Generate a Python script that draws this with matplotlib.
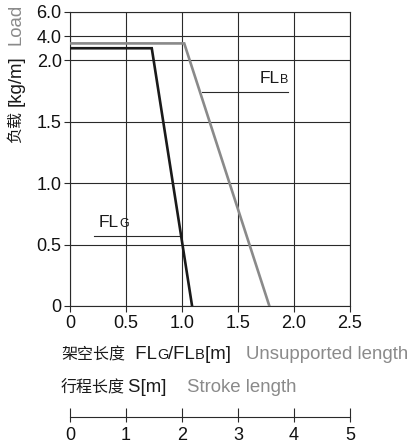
import numpy as np
import matplotlib
matplotlib.use("Agg")
import matplotlib.pyplot as plt
from matplotlib.offsetbox import TextArea, HPacker, AnnotationBbox

plt.rcParams['font.family'] = ['Liberation Sans', 'Noto Sans CJK SC', 'DejaVu Sans']

# Data
flg_x = [0.0, 0.73, 1.09]
flg_y = [3.0, 3.0, 0.0]
flb_x = [0.0, 1.02, 1.78]
flb_y = [3.4, 3.4, 0.0]
y_ticks = [0, 0.5, 1.0, 1.5, 2.0, 4.0, 6.0]
y_ticklabels = ["0", "0.5", "1.0", "1.5", "2.0", "4.0", "6.0"]
x_ticks = [0, 0.5, 1.0, 1.5, 2.0, 2.5]
x_ticklabels = ["0", "0.5", "1.0", "1.5", "2.0", "2.5"]
s_ticks = [0, 1, 2, 3, 4, 5]
s_ticklabels = ["0", "1", "2", "3", "4", "5"]

K = (12.0 / 122.0)

def fwd(v):
    v = np.asarray(v, dtype=float)
    return np.where(v <= 2, v, 2 + (v - 2) * K)

def inv(p):
    p = np.asarray(p, dtype=float)
    return np.where(p <= 2, p, 2 + (p - 2) / K)

W, H = 420, 443
FS = 13
LFS = 13.4
CFS = 11.5
SUB = 10.5
CJK = ['Noto Sans CJK SC', 'DejaVu Sans']
LAT = ['Liberation Sans', 'DejaVu Sans']
fig = plt.figure(figsize=(W / 100, H / 100), dpi=100)
ax = fig.add_axes([70 / W, 1 - 306 / H, 280 / W, 294 / H])
ax.set_yscale('function', functions=(fwd, inv))
ax.set_xlim(0, 2.5)
ax.set_ylim(0, 6.0)

BLACK = '#1a1a1a'
GRAY = '#8a8a8a'
GRID = '#2a2a2a'

ax.plot(flb_x, flb_y, color=GRAY, lw=1.9, solid_joinstyle='miter', zorder=3)
ax.plot(flg_x, flg_y, color=BLACK, lw=1.9, solid_joinstyle='miter', zorder=4)

ax.set_xticks(x_ticks)
ax.set_xticklabels(x_ticklabels)
ax.set_yticks(y_ticks)
ax.set_yticklabels(y_ticklabels)
ax.minorticks_off()
ax.grid(True, color=GRID, lw=0.8)
for s in ax.spines.values():
    s.set_color(GRID)
    s.set_linewidth(0.8)
ax.tick_params(axis='both', direction='out', length=4.5, width=0.8, color=GRID,
               labelsize=FS, labelcolor='#111111')
ax.tick_params(axis='x', pad=2)
ax.tick_params(axis='y', pad=1.5)

# labels inside chart
ax.plot([1.18, 1.95], [1.74, 1.74], color=GRID, lw=0.8, zorder=2)
ax.plot([0.21, 0.98], [0.57, 0.57], color=GRID, lw=0.8, zorder=2)

def label_box(parts):
    areas = []
    for t, c, fs, fam in parts:
        areas.append(TextArea(t, textprops=dict(color=c, fontsize=fs, family=fam)))
    return HPacker(children=areas, align='baseline', pad=0, sep=0)

bbB = label_box([("FL", BLACK, 12.5, LAT), ("B", BLACK, 9, LAT)])
ab = AnnotationBbox(bbB, (1.95, 1.79), xycoords='data', box_alignment=(1, 0),
                    frameon=False, pad=0)
ax.add_artist(ab)
bbG = label_box([("FL", BLACK, 12.5, LAT), ("G", BLACK, 9, LAT)])
ab2 = AnnotationBbox(bbG, (0.26, 0.62), xycoords='data', box_alignment=(0, 0),
                     frameon=False, pad=0)
ax.add_artist(ab2)

# y label (two colours, rotated)
fig.text(16 / W, 1 - 143 / H, "负载", rotation=90, ha='center', va='bottom',
         fontsize=CFS, color=BLACK, family=CJK)
fig.text(16 / W, 1 - 106 / H, "[kg/m]", rotation=90, ha='center', va='bottom',
         fontsize=LFS, color=BLACK, family=LAT)
fig.text(16 / W, 1 - 45 / H, "Load", rotation=90, ha='center', va='bottom',
         fontsize=LFS, color=GRAY, family=LAT)

# x label line
xl = label_box([("架空长度", BLACK, CFS, CJK), ("  FL", BLACK, LFS, LAT), ("G", BLACK, SUB, LAT),
                ("/FL", BLACK, LFS, LAT), ("B", BLACK, SUB, LAT), ("[m]   ", BLACK, LFS, LAT),
                ("Unsupported length", GRAY, LFS, LAT)])
ab3 = AnnotationBbox(xl, (61 / W, 1 - 363 / H), xycoords='figure fraction',
                     box_alignment=(0, 0), frameon=False, pad=0)
fig.add_artist(ab3)
sl = label_box([("行程长度", BLACK, CFS, CJK), (" ", BLACK, 7, LAT), ("S[m]    ", BLACK, LFS, LAT),
                ("Stroke length", GRAY, LFS, LAT)])
ab4 = AnnotationBbox(sl, (61 / W, 1 - 396 / H), xycoords='figure fraction',
                     box_alignment=(0, 0), frameon=False, pad=0)
fig.add_artist(ab4)

# stroke axis
ax2 = fig.add_axes([70 / W, 1 - 417 / H, 280 / W, 0.001])
ax2.set_xlim(0, 5)
ax2.set_yticks([])
ax2.set_xticks(s_ticks)
ax2.set_xticklabels(s_ticklabels)
ax2.set_xticks(s_ticks, minor=True)
ax2.xaxis.remove_overlapping_locs = False
for k in ['top', 'left', 'right']:
    ax2.spines[k].set_visible(False)
ax2.spines['bottom'].set_color(GRID)
ax2.spines['bottom'].set_linewidth(0.8)
ax2.patch.set_visible(False)
ax2.tick_params(axis='x', which='major', direction='in', length=6.5, width=0.8, color=GRID,
                labelsize=FS, labelcolor='#111111', pad=7)
ax2.tick_params(axis='x', which='minor', direction='out', length=3.5, width=0.8, color=GRID,
                labelbottom=False)

fig.savefig("out.png", dpi=100)
